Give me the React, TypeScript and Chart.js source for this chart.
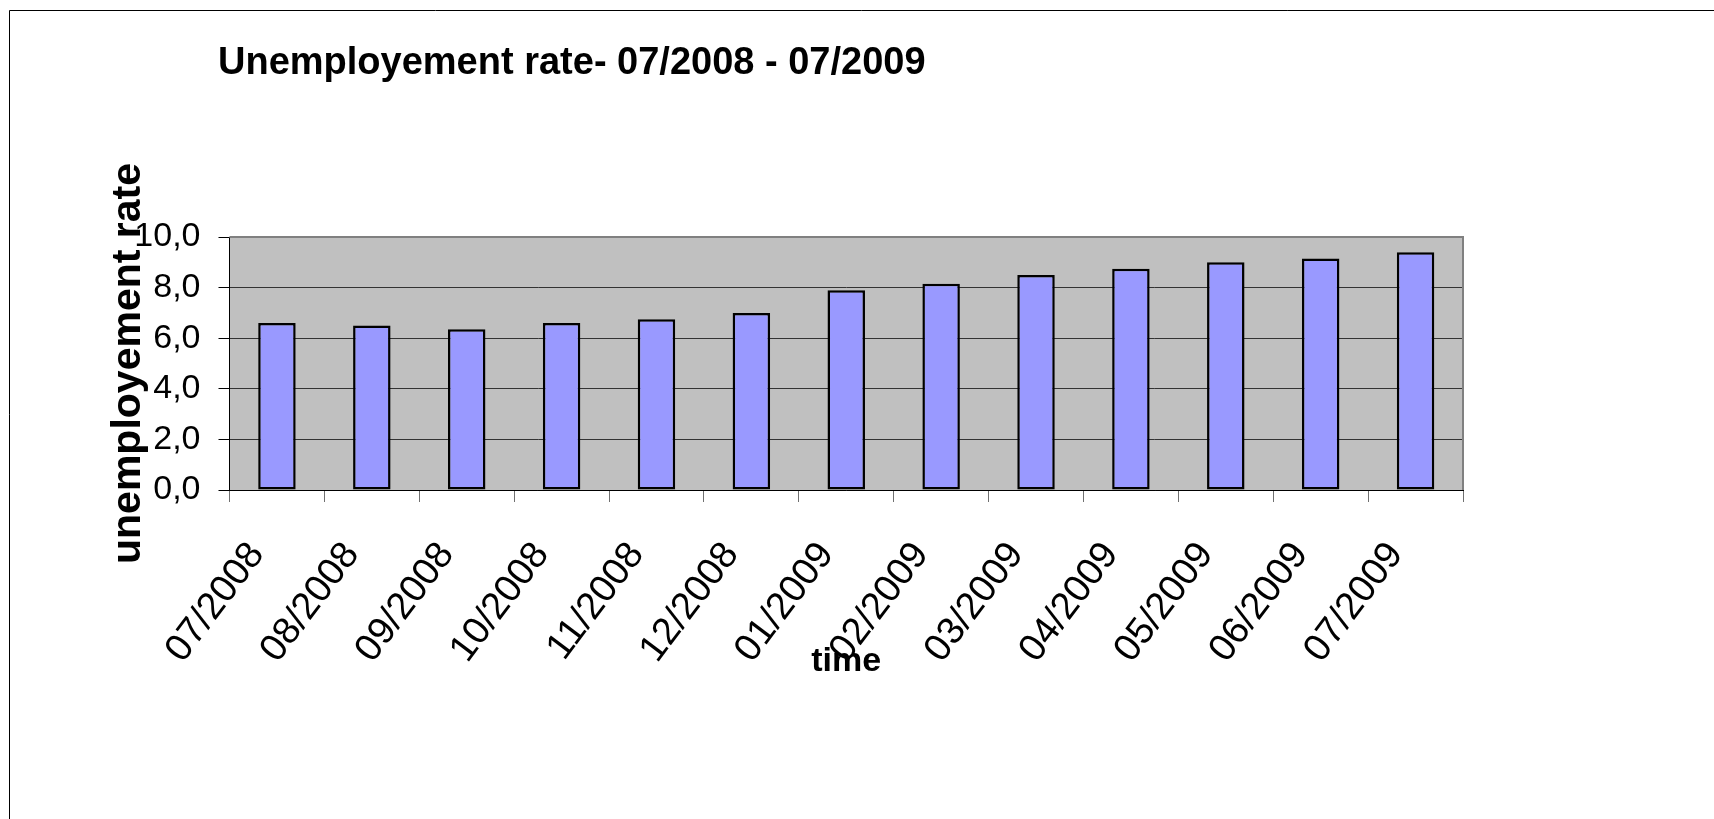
import React, { useEffect, useRef } from 'react';
import { Chart, registerables } from 'chart.js';

Chart.register(...registerables);

const TITLE = 'Unemployement rate- 07/2008 - 07/2009';
const Y_TITLE = 'unemployement rate';
const X_TITLE = 'time';

const categories = [
  '07/2008', '08/2008', '09/2008', '10/2008', '11/2008', '12/2008',
  '01/2009', '02/2009', '03/2009', '04/2009', '05/2009', '06/2009', '07/2009',
];
const rates = [6.6, 6.5, 6.35, 6.6, 6.75, 7.0, 7.9, 8.15, 8.5, 8.75, 9.0, 9.15, 9.4];
const yMin = 0;
const yMax = 10;
const yStep = 2;

const W = 1714;
const H = 819;
const FONT = '"Liberation Sans", Arial, Helvetica, sans-serif';

const framePlugin = {
  id: 'framePlugin',
  beforeDraw(chart: any) {
    const { ctx, chartArea: a } = chart;
    ctx.save();
    ctx.fillStyle = '#ffffff';
    ctx.fillRect(0, 0, W, H);
    ctx.fillStyle = '#C0C0C0';
    ctx.fillRect(a.left, a.top, a.right - a.left, a.bottom - a.top);
    ctx.restore();
  },
  afterDraw(chart: any) {
    const { ctx, chartArea: a } = chart;
    ctx.save();
    ctx.strokeStyle = '#808080';
    ctx.lineWidth = 2;
    ctx.beginPath();
    ctx.moveTo(a.left, a.top);
    ctx.lineTo(a.right, a.top);
    ctx.lineTo(a.right, a.bottom);
    ctx.stroke();

    ctx.strokeStyle = '#000000';
    ctx.lineWidth = 1;
    ctx.beginPath();
    ctx.moveTo(9.5, H);
    ctx.lineTo(9.5, 10.5);
    ctx.lineTo(W, 10.5);
    ctx.stroke();

    ctx.font = `bold 38px ${FONT}`;
    ctx.fillStyle = '#000000';
    ctx.textAlign = 'left';
    ctx.textBaseline = 'alphabetic';
    ctx.fillText(TITLE, 218, 74);
    ctx.restore();
  },
};

export default function App() {
  const ref = useRef<HTMLCanvasElement | null>(null);

  useEffect(() => {
    if (!ref.current) return;
    const chart = new Chart(ref.current, {
      type: 'bar',
      data: {
        labels: categories,
        datasets: [
          {
            data: rates,
            backgroundColor: '#9999FF',
            borderColor: '#000000',
            borderWidth: 2.5,
            borderSkipped: false,
            categoryPercentage: 1,
            barPercentage: 0.395,
          },
        ],
      },
      options: {
        animation: false,
        responsive: false,
        maintainAspectRatio: false,
        devicePixelRatio: 1,
        layout: { padding: { left: 0, top: 237, right: 251, bottom: 0 } },
        plugins: {
          legend: { display: false },
          title: { display: false },
          tooltip: { enabled: false },
        },
        scales: {
          x: {
            afterFit: (s: any) => { s.height = 329; },
            grid: {
              display: true,
              drawOnChartArea: false,
              drawTicks: true,
              tickLength: 12,
              color: '#707070',
              offset: true,
            },
            border: { display: true, color: '#000000', width: 1 },
            ticks: {
              autoSkip: false,
              minRotation: 53,
              maxRotation: 53,
              padding: 32,
              labelOffset: -20,
              color: '#000000',
              font: { family: FONT, size: 38, lineHeight: 1.2 },
            },
            title: {
              display: true,
              text: X_TITLE,
              color: '#000000',
              font: { family: FONT, size: 34, weight: 'bold', lineHeight: 1.2 },
              padding: { top: 0, bottom: 137 },
            },
          },
          y: {
            min: yMin,
            max: yMax,
            afterFit: (s: any) => { s.width = 229.5; },
            grid: {
              color: '#333333',
              lineWidth: 1,
              drawTicks: true,
              tickLength: 11,
              tickColor: '#000000',
            },
            border: { display: true, color: '#000000', width: 1 },
            ticks: {
              stepSize: yStep,
              padding: 18,
              color: '#000000',
              font: { family: FONT, size: 34, lineHeight: 1.2 },
              callback: (v: any) => Number(v).toFixed(1).replace('.', ','),
            },
            title: {
              display: true,
              text: Y_TITLE,
              color: '#000000',
              font: { family: FONT, size: 41, weight: 'bold', lineHeight: 1.2 },
              padding: { top: 104, bottom: 0 },
            },
          },
        },
      },
      plugins: [framePlugin],
    } as any);
    return () => chart.destroy();
  }, []);

  return (
    <div style={{ position: 'fixed', left: 0, top: 0, width: W, height: H, background: '#fff' }}>
      <canvas ref={ref} width={W} height={H} style={{ display: 'block', width: W, height: H }} />
    </div>
  );
}
